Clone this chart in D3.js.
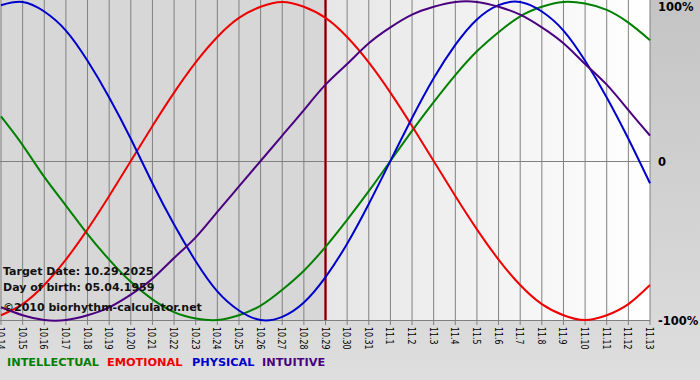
<!DOCTYPE html>
<html>
<head>
<meta charset="utf-8">
<script src="https://cdn.jsdelivr.net/npm/d3@7"></script>
<style>
  body { margin: 0; background: #fff; }
  svg { display: block; font-family: "DejaVu Sans", Verdana, sans-serif; }
</style>
</head>
<body>
<div id="chart"></div>
<script>
// day labels (MM.D) shown under the chart
const days = ["10.14","10.15","10.16","10.17","10.18","10.19","10.20","10.21","10.22","10.23",
  "10.24","10.25","10.26","10.27","10.28","10.29","10.30","10.31","11.1","11.2","11.3","11.4",
  "11.5","11.6","11.7","11.8","11.9","11.10","11.11","11.12","11.13"];
const targetDay = "10.29";

// daily values, -1 .. 1
const physical = [0.98,1.00,0.94,0.82,0.63,0.40,0.14,-0.14,-0.40,-0.63,-0.82,-0.94,-1.00,-0.98,
  -0.89,-0.73,-0.52,-0.27,0,0.27,0.52,0.73,0.89,0.98,1.00,0.94,0.82,0.63,0.40,0.14,-0.14];
const emotional = [-0.97,-0.90,-0.78,-0.62,-0.43,-0.22,0,0.22,0.43,0.62,0.78,0.90,0.97,1.00,
  0.97,0.90,0.78,0.62,0.43,0.22,0,-0.22,-0.43,-0.62,-0.78,-0.90,-0.97,-1.00,-0.97,-0.90,-0.78];
const intellectual = [0.28,0.10,-0.10,-0.28,-0.46,-0.62,-0.76,-0.87,-0.95,-0.99,-1.00,-0.97,-0.91,
  -0.81,-0.69,-0.54,-0.37,-0.19,0,0.19,0.37,0.54,0.69,0.81,0.91,0.97,1.00,0.99,0.95,0.87,0.76];
const intuitive = [-0.92,-0.97,-1.00,-1.00,-0.97,-0.92,-0.84,-0.74,-0.61,-0.48,-0.32,-0.16,0,0.16,
  0.32,0.48,0.61,0.74,0.84,0.92,0.97,1.00,1.00,0.97,0.92,0.84,0.74,0.61,0.48,0.32,0.16];

const seriesNames = ["INTELLECTUAL", "EMOTIONAL", "PHYSICAL", "INTUITIVE"];
const seriesColors = ["#008000", "#ee0000", "#0000cc", "#4b0082"];
const seriesData = [intellectual, emotional, physical, intuitive];

const yTicks = [1, 0, -1];
const yLabels = ["100%", "0", "-100%"];

const width = 700, height = 380;
const plotLeft = 1, plotRight = 650, plotTop = 2, plotBottom = 320;

const x = d3.scalePoint().domain(days).range([plotLeft, plotRight]);
const y = d3.scaleLinear().domain([-1, 1]).range([plotBottom, plotTop]);

const svg = d3.select("#chart").append("svg")
    .attr("width", width)
    .attr("height", height);

const defs = svg.append("defs");
const outer = defs.append("linearGradient").attr("id", "outer")
    .attr("x1", 0).attr("y1", 0).attr("x2", 0).attr("y2", 1);
outer.append("stop").attr("offset", 0).attr("stop-color", "#c4c4c4");
outer.append("stop").attr("offset", 1).attr("stop-color", "#dedede");
const future = defs.append("linearGradient").attr("id", "future");
future.append("stop").attr("offset", 0).attr("stop-color", "#e6e6e6");
future.append("stop").attr("offset", 1).attr("stop-color", "#ffffff");

svg.append("rect").attr("width", width).attr("height", height).attr("fill", "url(#outer)");

const tx = x(targetDay);
svg.append("rect").attr("x", 0).attr("y", 0).attr("width", tx).attr("height", plotBottom)
    .attr("fill", "#d7d7d7");
svg.append("rect").attr("x", tx).attr("y", 0).attr("width", plotRight - tx).attr("height", plotBottom)
    .attr("fill", "url(#future)");

// grid
svg.append("g").selectAll("line")
  .data(days)
  .join("line")
    .attr("x1", d => x(d)).attr("x2", d => x(d))
    .attr("y1", 0).attr("y2", plotBottom + 5)
    .attr("stroke", "#808080");

svg.append("g").selectAll("line")
  .data([0, -1])
  .join("line")
    .attr("x1", 0).attr("x2", plotRight)
    .attr("y1", d => Math.round(y(d)) + 0.5).attr("y2", d => Math.round(y(d)) + 0.5)
    .attr("stroke", "#808080");

// day labels, rotated and squeezed along the text
svg.append("g").selectAll("text")
  .data(days)
  .join("text")
    .attr("transform", d => `translate(${x(d) - 4},327) rotate(90) scale(0.72,1)`)
    .attr("font-size", 11)
    .attr("fill", "#000")
    .text(d => d);

// right labels
svg.append("g").selectAll("text")
  .data(yTicks)
  .join("text")
    .attr("x", 658)
    .attr("y", (d, i) => i === 0 ? 11 : y(d) + 5)
    .attr("font-size", 11.5)
    .attr("font-weight", "bold")
    .text((d, i) => yLabels[i]);

// target day marker
svg.append("line")
    .attr("x1", tx).attr("x2", tx).attr("y1", 0).attr("y2", plotBottom)
    .attr("stroke", "#c06060").attr("stroke-width", 3);
svg.append("line")
    .attr("x1", tx).attr("x2", tx).attr("y1", 0).attr("y2", plotBottom)
    .attr("stroke", "#6a0000").attr("stroke-width", 1.5);

// curves
const line = d3.line()
    .x((d, i) => x(days[i]))
    .y(d => y(d))
    .curve(d3.curveNatural);

svg.append("g").selectAll("path")
  .data(seriesData)
  .join("path")
    .attr("d", d => line(d))
    .attr("fill", "none")
    .attr("stroke", (d, i) => seriesColors[i])
    .attr("stroke-width", 2);

// info text
const info = ["Target Date: 10.29.2025", "Day of birth: 05.04.1959", "\u00a92010 biorhythm-calculator.net"];
svg.append("g").selectAll("text")
  .data(info)
  .join("text")
    .attr("x", 3)
    .attr("y", (d, i) => [275, 291, 311][i])
    .attr("font-size", 11)
    .attr("font-weight", "bold")
    .attr("fill", "#111")
    .text(d => d);

// legend
const legendX = [7, 107, 192, 262];
svg.append("g").selectAll("text")
  .data(seriesNames)
  .join("text")
    .attr("x", (d, i) => legendX[i])
    .attr("y", 366)
    .attr("font-size", 11.3)
    .attr("font-weight", "bold")
    .attr("fill", (d, i) => seriesColors[i])
    .text(d => d);
</script>
</body>
</html>
